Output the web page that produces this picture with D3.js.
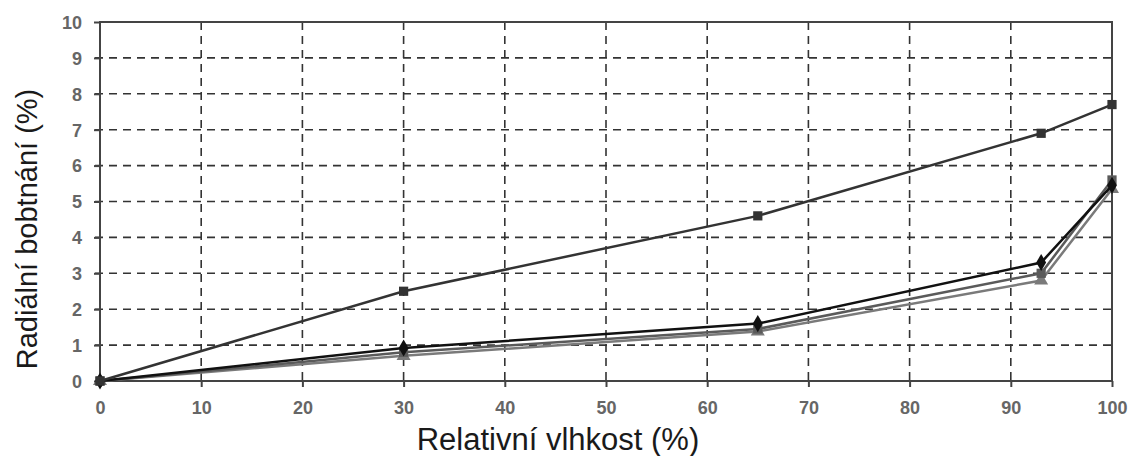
<!DOCTYPE html>
<html>
<head>
<meta charset="utf-8">
<script src="https://cdn.jsdelivr.net/npm/d3@7"></script>
<style>
  body { margin: 0; background: #fff; }
  text { font-family: "Liberation Sans", Arial, sans-serif; }
</style>
</head>
<body>
<div id="chart"></div>
<script>
// === Radial swelling chart ===

const humidity = [0, 30, 65, 93, 100];
const seriesTop = [0, 2.5, 4.6, 6.9, 7.7];
const seriesBlack = [0, 0.92, 1.6, 3.3, 5.45];
const seriesSquare = [0, 0.8, 1.45, 3.0, 5.6];
const seriesTriangle = [0, 0.7, 1.38, 2.8, 5.35];
const xTicks = [0, 10, 20, 30, 40, 50, 60, 70, 80, 90, 100];
const yTicks = [0, 1, 2, 3, 4, 5, 6, 7, 8, 9, 10];

const W = 1132, H = 456;
const M = { top: 22, right: 20, bottom: 75, left: 100 };

const svg = d3.select('#chart').append('svg')
  .attr('width', W).attr('height', H);

const x = d3.scaleLinear().domain([0, 100]).range([M.left, W - M.right]);
const y = d3.scaleLinear().domain([0, 10]).range([H - M.bottom, M.top]);

// Dashed grid
const grid = svg.append('g');
for (const t of yTicks.slice(1, -1)) {
  grid.append('line')
    .attr('x1', M.left - 5).attr('x2', x(100))
    .attr('y1', y(t)).attr('y2', y(t))
    .attr('stroke', '#333').attr('stroke-width', 1.6)
    .attr('stroke-dasharray', '8,6');
}
for (const t of xTicks.slice(1, -1)) {
  grid.append('line')
    .attr('x1', x(t)).attr('x2', x(t))
    .attr('y1', y(10)).attr('y2', y(0))
    .attr('stroke', '#333').attr('stroke-width', 1.6)
    .attr('stroke-dasharray', '8,6');
}

// Frame
svg.append('rect')
  .attr('x', x(0)).attr('y', y(10))
  .attr('width', x(100) - x(0)).attr('height', y(0) - y(10))
  .attr('fill', 'none').attr('stroke', '#444').attr('stroke-width', 2);

// Axes
const xAxis = svg.append('g')
  .attr('transform', `translate(0,${y(0)})`)
  .call(d3.axisBottom(x).tickValues(xTicks).tickSize(6).tickPadding(14));
const yAxis = svg.append('g')
  .attr('transform', `translate(${x(0)},0)`)
  .call(d3.axisLeft(y).tickValues(yTicks).tickSize(6).tickPadding(12));
for (const ax of [xAxis, yAxis]) {
  ax.select('.domain').remove();
  ax.selectAll('.tick line').attr('stroke', '#444').attr('stroke-width', 2);
  ax.selectAll('.tick text').attr('fill', '#666')
    .style('font-size', '18px')
    .style('font-weight', 'bold')
    .style('font-family', '"Liberation Sans", Arial, sans-serif');
}
yAxis.selectAll('.tick text').attr('dy', '0.35em');

// Titles
svg.append('text')
  .attr('x', 558).attr('y', 450)
  .attr('text-anchor', 'middle')
  .style('font-size', '31px').attr('fill', '#1a1a1a')
  .text('Relativní vlhkost (%)');
svg.append('text')
  .attr('transform', `translate(37,229) rotate(-90)`)
  .attr('text-anchor', 'middle')
  .style('font-size', '29px').attr('fill', '#1a1a1a')
  .text('Radiální bobtnání (%)');

// Series
const line = d3.line().x((d, i) => x(humidity[i])).y(d => y(d));
const series = [
  { values: seriesTriangle, color: '#7a7a7a', marker: 'triangle' },
  { values: seriesSquare, color: '#5a5a5a', marker: 'square' },
  { values: seriesBlack, color: '#111', marker: 'diamond' },
  { values: seriesTop, color: '#333', marker: 'square' }
];
const symbols = { square: d3.symbolSquare, diamond: d3.symbolDiamond, triangle: d3.symbolTriangle };

for (const s of series) {
  svg.append('path')
    .attr('d', line(s.values))
    .attr('fill', 'none')
    .attr('stroke', s.color)
    .attr('stroke-width', 2.5);
  svg.append('g').selectAll('path')
    .data(s.values)
    .join('path')
    .attr('transform', (d, i) => `translate(${x(humidity[i])},${y(d)})`)
    .attr('d', d3.symbol().type(symbols[s.marker]).size(85))
    .attr('fill', s.color);
}
</script>
</body>
</html>
